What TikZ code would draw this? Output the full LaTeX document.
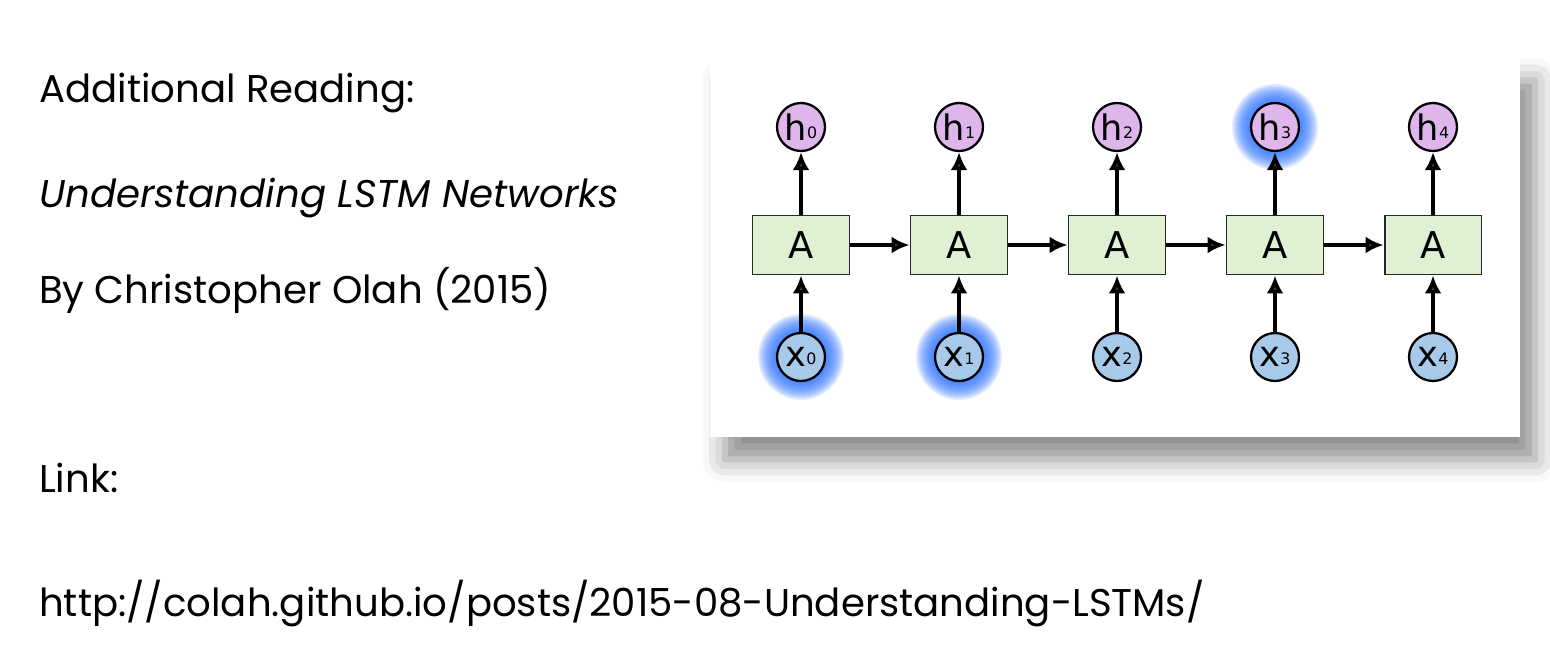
\documentclass[tikz,border=0pt]{standalone}
\usepackage{fontspec}
\setmainfont{Poppins}
\newfontfamily\diagfont{DejaVu Sans}
\usetikzlibrary{
  arrows.meta,%
  % soft shadow under the panel
  shadows.blur,
  positioning
}
\definecolor{cellgreen}{RGB}{223,241,210}
\definecolor{outlilac}{RGB}{222,182,236}
\definecolor{inblue}{RGB}{168,202,234}
\definecolor{glowblue}{RGB}{45,115,255}
\tikzset{>={Latex[length=0.36cm,width=0.34cm]}}
\tikzset{font=\fontsize{22}{26}\selectfont}
\tikzset{cell/.style={draw=black!85, line width=1.1pt, fill=cellgreen,
    minimum width=1.94cm, minimum height=1.18cm, inner sep=0pt,
    font=\diagfont\fontsize{21}{21}\selectfont},
  state/.style={circle, draw=black, line width=1.3pt, minimum size=0.96cm,
    inner sep=0pt, font=\diagfont\fontsize{20}{20}\selectfont},
  flow/.style={->, line width=2.1pt}}
\newcommand{\sub}[1]{\raisebox{1pt}{\fontsize{9}{9}\selectfont #1}}

\begin{document}
\begin{tikzpicture}[x=0.02cm, y=-0.02cm]
  \useasboundingbox (0,0) rectangle (1550,672);
  % reading list
  \node[anchor=base west] (title) at (33,103) {Additional Reading:};
  \node[anchor=base west] (article) at (33,208) {\itshape Understanding LSTM Networks};
  \node[anchor=base west] (author) at (33,303) {By Christopher Olah (2015)};
  \node[anchor=base west] (linklabel) at (33,492) {Link:};
  \node[anchor=base west] (url) at (33,616) {http://colah.github.io/posts/2015-08-Understanding-LSTMs/};
  % panel
  \fill[white, blur shadow={shadow xshift=0.3cm, shadow yshift=-0.45cm,
      shadow blur radius=0.45cm, shadow opacity=45}]
    (710,58) rectangle (1520,437);
  \foreach \i in {0,...,4}{
    \coordinate (hc\i) at (801+158*\i,127);
    \coordinate (xc\i) at (801+158*\i,357);
  }
  % highlighted states
  \foreach \g in {xc0,xc1,hc3}
    \foreach \r in {0.5,0.53,...,0.86}
      \fill[glowblue, opacity=0.13] (\g) circle (\r cm);
  \foreach \i in {0,...,4}{
    \node[cell] (a\i) at (801+158*\i,245) {A};
    \node[state, fill=outlilac] (h\i) at (hc\i) {h\sub{\i}};
    \node[state, fill=inblue] (x\i) at (xc\i) {x\sub{\i}};
    \draw[flow] (x\i) -- (a\i);
    \draw[flow] (a\i) -- (h\i);
  }
  \foreach \i [evaluate=\i as \j using int(\i+1)] in {0,...,3}
    \draw[flow] (a\i) -- (a\j);
\end{tikzpicture}
\end{document}
